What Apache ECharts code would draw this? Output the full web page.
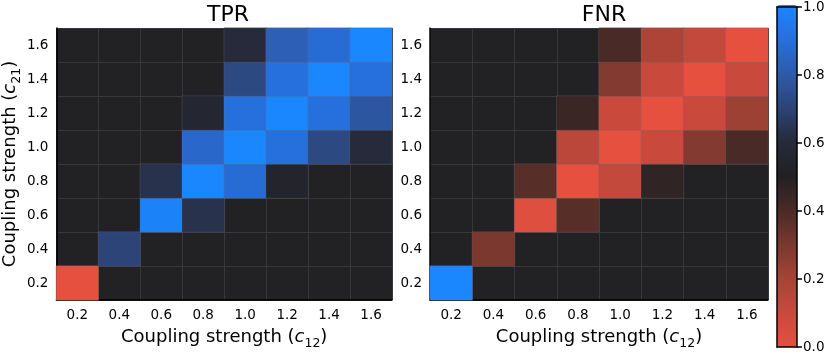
<!DOCTYPE html>
<html>
<head>
<meta charset="utf-8">
<script src="https://cdn.jsdelivr.net/npm/echarts@6/dist/echarts.min.js"></script>
<style>html,body{margin:0;padding:0;background:#fff}#c{width:830px;height:355px}</style>
</head>
<body>
<div id="c"></div>
<script>
const c12 = ['0.2','0.4','0.6','0.8','1.0','1.2','1.4','1.6'];
const c21 = ['0.2','0.4','0.6','0.8','1.0','1.2','1.4','1.6'];
const cbarTicks = [0, 0.2, 0.4, 0.6, 0.8, 1.0];
// rows from c21 = 0.2 (bottom) to c21 = 1.6 (top); null = undefined (NaN)
const tpr = [
  [0.0, null, null, null, null, null, null, null],
  [null, 0.70, null, null, null, null, null, null],
  [null, null, 0.98, 0.63, null, null, null, null],
  [null, null, 0.63, 1.0, 0.88, 0.54, null, null],
  [null, null, null, 0.86, 1.0, 0.9, 0.72, 0.6],
  [null, null, null, 0.56, 0.9, 1.0, 0.9, 0.78],
  [null, null, null, null, 0.72, 0.9, 1.0, 0.9],
  [null, null, null, null, 0.6, 0.82, 0.88, 1.0]
];
const fnr = [
  [1.0, null, null, null, null, null, null, null],
  [null, 0.30, null, null, null, null, null, null],
  [null, null, 0.02, 0.37, null, null, null, null],
  [null, null, 0.37, 0.0, 0.12, 0.46, null, null],
  [null, null, null, 0.14, 0.0, 0.1, 0.28, 0.4],
  [null, null, null, 0.44, 0.1, 0.0, 0.1, 0.22],
  [null, null, null, null, 0.28, 0.1, 0.0, 0.1],
  [null, null, null, null, 0.4, 0.18, 0.12, 0.0]
];

function toData(m) {
  const out = [];
  m.forEach((row, yi) => row.forEach((v, xi) => { if (v !== null) out.push([xi, yi, v]); }));
  return out;
}

const FONT = 'DejaVu Sans';
const cmap = ['#e5503f','#c94a3d','#a64336','#7a382e','#4a2a26','#212023','#262a3a','#2c4478','#2d5bab','#2670de','#1a86ff'];

const axisName = sub => '{n|Coupling strength (}{i|c}{s|' + sub + '}{n|)}';
const nameRich = {
  n: {fontSize: 18, fontFamily: FONT, color: '#000', lineHeight: 22, verticalAlign: 'bottom'},
  i: {fontSize: 18, fontFamily: FONT, color: '#000', fontStyle: 'italic', lineHeight: 22, verticalAlign: 'bottom'},
  s: {fontSize: 12.5, fontFamily: FONT, color: '#000', lineHeight: 22, verticalAlign: 'bottom', padding: [0, 0, -4, 0]}
};

function catX(gi) {
  return {
    type: 'category', data: c12, gridIndex: gi,
    axisLine: {show: true, onZero: false, lineStyle: {color: '#000', width: 1.5}},
    axisTick: {show: false},
    axisLabel: {fontSize: 13.5, fontFamily: FONT, color: '#000', margin: 8},
    splitLine: {show: true, lineStyle: {color: '#38383b', width: 1}},
    name: axisName('12'), nameLocation: 'middle', nameGap: 24,
    nameTextStyle: {rich: nameRich}
  };
}
function catY(gi, withName) {
  const a = {
    type: 'category', data: c21, gridIndex: gi,
    axisLine: {show: true, onZero: false, lineStyle: {color: '#000', width: 1.5}},
    axisTick: {show: false},
    axisLabel: {fontSize: 13.5, fontFamily: FONT, color: '#000', margin: 8},
    splitLine: {show: true, lineStyle: {color: '#38383b', width: 1}}
  };
  if (withName) {
    a.name = axisName('21'); a.nameLocation = 'middle'; a.nameGap = 34;
    a.nameTextStyle = {rich: nameRich};
  }
  return a;
}
const frameAxis = {show: true, onZero: false, lineStyle: {color: '#000', width: 1.5}};

const chart = echarts.init(document.getElementById('c'), null, {renderer: 'canvas'});
chart.setOption({
  animation: false,
  backgroundColor: '#fff',
  textStyle: {fontFamily: FONT},
  title: [
    {text: 'TPR', left: 223, top: -1, textAlign: 'center', textStyle: {fontSize: 22, fontWeight: 'normal', fontFamily: FONT, color: '#000'}},
    {text: 'FNR', left: 599, top: -1, textAlign: 'center', textStyle: {fontSize: 22, fontWeight: 'normal', fontFamily: FONT, color: '#000'}}
  ],
  grid: [
    {left: 55, top: 28, width: 337, height: 275, show: true, backgroundColor: '#222124', borderWidth: 0},
    {left: 430, top: 28, width: 338, height: 275, show: true, backgroundColor: '#222124', borderWidth: 0},
    {left: 777, top: 5, width: 20, height: 342, show: false}
  ],
  xAxis: [catX(0), catX(1),
    {type: 'value', gridIndex: 2, position: 'bottom', min: 0, max: 1, zlevel: 1, z: 10,
     axisLine: frameAxis, axisTick: {show: false}, axisLabel: {show: false}, splitLine: {show: false}},
    {type: 'value', gridIndex: 2, position: 'top', min: 0, max: 1, zlevel: 1, z: 10,
     axisLine: frameAxis, axisTick: {show: false}, axisLabel: {show: false}, splitLine: {show: false}}
  ],
  yAxis: [catY(0, true), catY(1, false),
    {type: 'value', gridIndex: 2, position: 'right', min: 0, max: 1, interval: 0.2, zlevel: 1, z: 10,
     axisLine: frameAxis,
     axisTick: {show: true, inside: false, length: 5, lineStyle: {color: '#000', width: 1.5}},
     axisLabel: {fontSize: 13.5, fontFamily: FONT, color: '#000', margin: 6,
       formatter: v => cbarTicks.some(t => Math.abs(t - v) < 1e-9) ? v.toFixed(1) : ''},
     splitLine: {show: false}},
    {type: 'value', gridIndex: 2, position: 'left', min: 0, max: 1, zlevel: 1, z: 10,
     axisLine: frameAxis, axisTick: {show: false}, axisLabel: {show: false}, splitLine: {show: false}}
  ],
  visualMap: {
    type: 'continuous', min: 0, max: 1, seriesIndex: [0, 1],
    left: 777, top: 5, itemWidth: 20, itemHeight: 342, padding: 0,
    calculable: false, realtime: false, showLabel: false, text: null,
    inRange: {color: cmap}, orient: 'vertical', zlevel: 0, z: 1
  },
  series: [
    {type: 'heatmap', name: 'TPR', xAxisIndex: 0, yAxisIndex: 0, data: toData(tpr),
     itemStyle: {borderColor: 'rgba(110,110,120,0.3)', borderWidth: 1}, emphasis: {disabled: true}},
    {type: 'heatmap', name: 'FNR', xAxisIndex: 1, yAxisIndex: 1, data: toData(fnr),
     itemStyle: {borderColor: 'rgba(110,110,120,0.3)', borderWidth: 1}, emphasis: {disabled: true}}
  ]
});
</script>
</body>
</html>
